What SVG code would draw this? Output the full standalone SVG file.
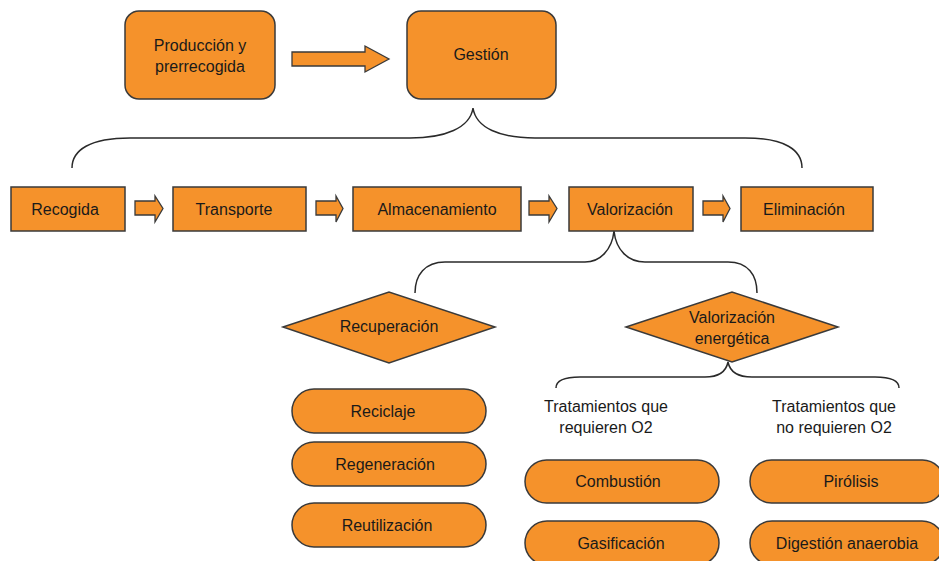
<svg xmlns="http://www.w3.org/2000/svg" width="939" height="561" viewBox="0 0 939 561">
<style>
.n{fill:#F5922B;stroke:#3a3a3a;stroke-width:1.5}
.c{fill:none;stroke:#2a2a2a;stroke-width:1.5}
.a{fill:#F5922B;stroke:#3a3a3a;stroke-width:1.3}
text{font-family:"Liberation Sans",Arial,sans-serif;font-size:16px;fill:#1a1a1a;text-anchor:middle}
</style>
<rect width="939" height="561" fill="#fff"/>
<g id="connectors">
<path class="a" d="M292,52 H365 V46 L389,59 L365,72 V66 H292 Z"/>
<path class="a" d="M135,201 H155 V196 L163,208.5 L155,222 V215 H135 Z"/>
<path class="a" d="M316,201 H336 V196 L343,208.5 L336,222 V215 H316 Z"/>
<path class="a" d="M529,201 H549 V196 L557,208.5 L549,222 V215 H529 Z"/>
<path class="a" d="M703,201 H723 V196 L730,208.5 L723,222 V215 H703 Z"/>
<path class="c" d="M72,168 C72,150 90,138 130,138 L410,138 C445,138 470,128 473,108 C476,128 500,138 535,138 L745,138 C785,138 802,150 802,168"/>
<path class="c" d="M415,293 C415,275 425,262 445,262 L585,262 C600,262 612,250 614,231 C616,250 628,262 645,262 L728,262 C748,262 757,275 757,293"/>
<path class="c" d="M556,388 C556,382 562,377 580,377 L705,377 C718,377 726,372 728,362 C730,372 738,377 752,377 L875,377 C893,377 899,382 899,388"/>
</g>
<g id="produccion"><rect class="n" x="125" y="11" width="150" height="88" rx="14"/><text x="200" y="51">Producción y</text><text x="200" y="72">prerrecogida</text></g>
<g id="gestion"><rect class="n" x="407" y="11" width="149" height="88" rx="14"/><text x="481" y="60">Gestión</text></g>
<g id="recogida"><rect class="n" x="11" y="187" width="114" height="44"/><text x="65" y="215">Recogida</text></g>
<g id="transporte"><rect class="n" x="173" y="187" width="133" height="44"/><text x="234" y="215">Transporte</text></g>
<g id="almacenamiento"><rect class="n" x="353" y="187" width="168" height="44"/><text x="437" y="215">Almacenamiento</text></g>
<g id="valorizacion"><rect class="n" x="569" y="187" width="124" height="44"/><text x="630" y="215">Valorización</text></g>
<g id="eliminacion"><rect class="n" x="741" y="187" width="132" height="44"/><text x="804" y="215">Eliminación</text></g>
<g id="recuperacion"><polygon class="n" points="283,327 389,292 495,327 389,363"/><text x="389" y="332">Recuperación</text></g>
<g id="valorizacion-energetica"><polygon class="n" points="626,327 732,292 838,327 732,362"/><text x="732" y="323">Valorización</text><text x="732" y="344">energética</text></g>
<g id="trat-o2"><text x="606" y="412">Tratamientos que</text><text x="606" y="433">requieren O2</text></g>
<g id="trat-no-o2"><text x="834" y="412">Tratamientos que</text><text x="834" y="433">no requieren O2</text></g>
<g id="reciclaje"><rect class="n" x="292" y="389" width="194" height="44" rx="22"/><text x="383" y="417">Reciclaje</text></g>
<g id="regeneracion"><rect class="n" x="292" y="442" width="194" height="44" rx="22"/><text x="385" y="470">Regeneración</text></g>
<g id="reutilizacion"><rect class="n" x="292" y="503" width="194" height="44" rx="22"/><text x="387" y="531">Reutilización</text></g>
<g id="combustion"><rect class="n" x="525" y="460" width="194" height="43" rx="21.5"/><text x="618" y="487">Combustión</text></g>
<g id="gasificacion"><rect class="n" x="525" y="521" width="194" height="44" rx="22"/><text x="621" y="549">Gasificación</text></g>
<g id="pirolisis"><rect class="n" x="750" y="460" width="194" height="43" rx="21.5"/><text x="851" y="487">Pirólisis</text></g>
<g id="digestion"><rect class="n" x="750" y="521" width="194" height="44" rx="22"/><text x="847" y="549">Digestión anaerobia</text></g>
</svg>
